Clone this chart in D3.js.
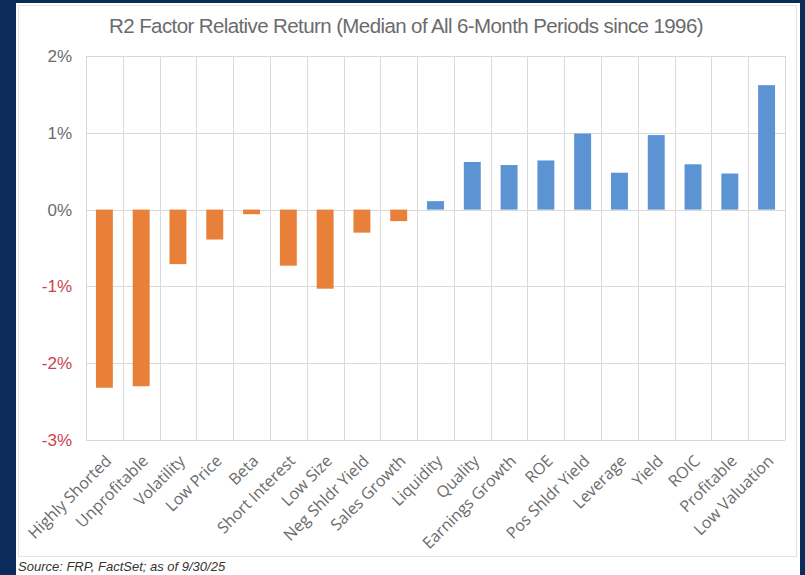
<!DOCTYPE html>
<html>
<head>
<meta charset="utf-8">
<script src="https://cdn.jsdelivr.net/npm/d3@7"></script>
<style>
  html, body { margin: 0; padding: 0; background: #0b2b5b; }
  svg { display: block; }
</style>
</head>
<body>
<svg id="chart" width="805" height="575"></svg>
<script>
// Factor names in display order
const factors = [
  "Highly Shorted", "Unprofitable", "Volatility", "Low Price", "Beta",
  "Short Interest", "Low Size", "Neg Shldr Yield", "Sales Growth", "Liquidity",
  "Quality", "Earnings Growth", "ROE", "Pos Shldr Yield", "Leverage",
  "Yield", "ROIC", "Profitable", "Low Valuation"
];
// Median 6-month relative return, in percent
const relReturn = [
  -2.32, -2.30, -0.71, -0.39, -0.06,
  -0.73, -1.03, -0.30, -0.15, 0.11,
  0.62, 0.58, 0.64, 0.99, 0.48,
  0.97, 0.59, 0.47, 1.62
];
const yTicks = [2, 1, 0, -1, -2, -3];

const title = "R2 Factor Relative Return (Median of All 6-Month Periods since 1996)";
const source = "Source: FRP, FactSet; as of 9/30/25";

const svg = d3.select("#chart");

// white card and chart frame
svg.append("rect").attr("x", 16).attr("y", 3).attr("width", 784).attr("height", 572).attr("fill", "#ffffff");
svg.append("rect").attr("x", 18.5).attr("y", 5.5).attr("width", 778).attr("height", 551)
  .attr("fill", "none").attr("stroke", "#e3e3e3").attr("stroke-width", 1);

const plot = { left: 86, right: 785, top: 56, bottom: 440 };

const x = d3.scaleBand().domain(factors).range([plot.left, plot.right]).padding(0);
const y = d3.scaleLinear().domain([-3, 2]).range([plot.bottom, plot.top]);

// horizontal gridlines
svg.append("g").selectAll("line").data(yTicks).join("line")
  .attr("x1", plot.left).attr("x2", plot.right)
  .attr("y1", d => Math.round(y(d)) + 0.5).attr("y2", d => Math.round(y(d)) + 0.5)
  .attr("stroke", "#d9d9d9").attr("stroke-width", 1);

// vertical category gridlines
const edges = factors.map(f => x(f)).concat([plot.right]);
svg.append("g").selectAll("line").data(edges).join("line")
  .attr("x1", d => Math.round(d) + 0.5).attr("x2", d => Math.round(d) + 0.5)
  .attr("y1", plot.top).attr("y2", plot.bottom)
  .attr("stroke", "#d9d9d9").attr("stroke-width", 1);

// bars
const barW = x.bandwidth() * 0.46;
svg.append("g").selectAll("rect").data(factors).join("rect")
  .attr("x", (d) => x(d) + (x.bandwidth() - barW) / 2)
  .attr("width", barW)
  .attr("y", (d, i) => y(Math.max(0, relReturn[i])))
  .attr("height", (d, i) => Math.abs(y(relReturn[i]) - y(0)))
  .attr("fill", (d, i) => relReturn[i] < 0 ? "#e8803a" : "#5b93d3");

// y axis labels
const yAxis = d3.axisLeft(y).tickValues(yTicks).tickSize(0).tickPadding(0)
  .tickFormat(d => d + "%");
const gy = svg.append("g").attr("transform", `translate(${plot.left - 14},0)`).call(yAxis);
gy.select(".domain").remove();
gy.selectAll("text")
  .attr("font-family", "Liberation Sans, Arial, sans-serif")
  .attr("font-size", 17)
  .attr("fill", d => d < 0 ? "#c94350" : "#6b6b6b");

// x axis labels, rotated
const xAxis = d3.axisBottom(x).tickSize(0).tickPadding(0);
const gx = svg.append("g").attr("transform", `translate(0,${plot.bottom})`).call(xAxis);
gx.select(".domain").remove();
gx.selectAll("text")
  .attr("font-family", "Open Sans, Liberation Sans, sans-serif")
  .attr("font-size", 16)
  .attr("fill", "#6b6b6b")
  .attr("text-anchor", "end")
  .attr("dy", null)
  .attr("y", 0)
  .attr("transform", "translate(8,22) rotate(-45)");

// title
svg.append("text")
  .attr("x", 406).attr("y", 33)
  .attr("text-anchor", "middle")
  .attr("font-family", "Liberation Sans, Arial, sans-serif")
  .attr("font-size", 20.5)
  .attr("letter-spacing", -0.6)
  .attr("fill", "#6b6b6b")
  .text(title);

// source note
svg.append("text")
  .attr("x", 18).attr("y", 571)
  .attr("font-family", "Liberation Sans, Arial, sans-serif")
  .attr("font-size", 13)
  .attr("font-style", "italic")
  .attr("fill", "#333333")
  .text(source);
</script>
</body>
</html>
